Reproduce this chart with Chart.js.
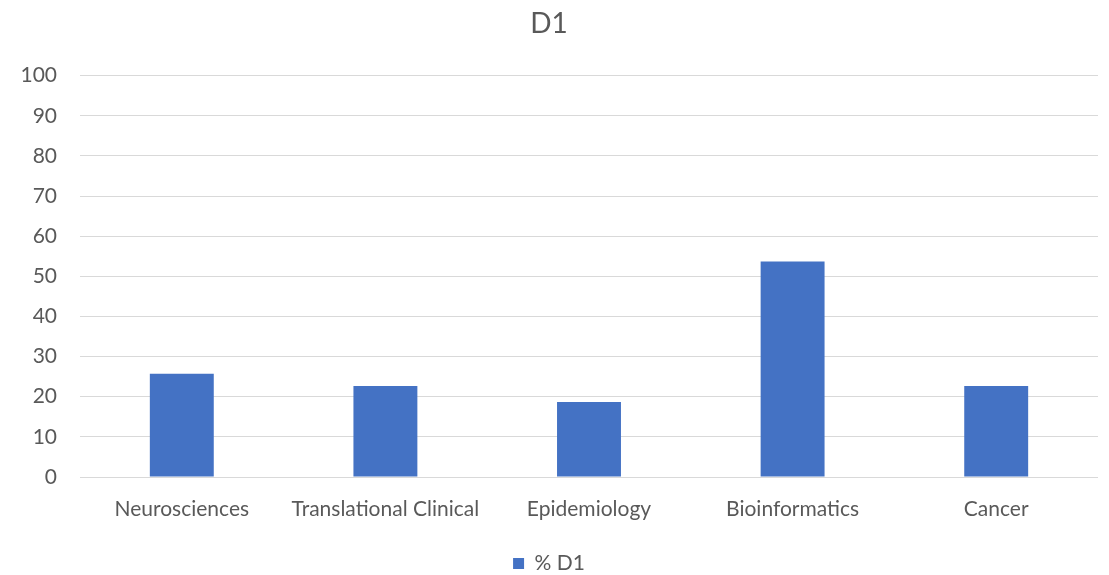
<!DOCTYPE html>
<html>
<head>
<meta charset="utf-8">
<script src="https://cdn.jsdelivr.net/npm/chart.js@4"></script>
<style>
  html, body { margin: 0; padding: 0; background: #fff; }
  #wrap { width: 1109px; height: 575px; }
</style>
</head>
<body>
<div id="wrap"><canvas id="chart"></canvas></div>
<script>
const categories = ['Neurosciences', 'Translational Clinical', 'Epidemiology', 'Bioinformatics', 'Cancer'];
const d1Values = [25.7, 22.7, 18.7, 53.7, 22.7];
const yTicks = [0, 10, 20, 30, 40, 50, 60, 70, 80, 90, 100];

const textColor = '#595959';
const fontFamily = 'Lato, "Open Sans", sans-serif';

let context = document.getElementById('chart').getContext('2d');
let chart = new Chart(context, {
    type: 'bar',
    data: {
        labels: categories,
        datasets: [{
            label: '% D1',
            data: d1Values,
            backgroundColor: '#4472C4',
            borderWidth: 0,
            categoryPercentage: 1,
            barPercentage: 0.314
        }]
    },
    options: {
        responsive: true,
        maintainAspectRatio: false,
        animation: false,
        layout: {
            // legend draws at the top of its box, so let the box hang off the bottom
            padding: { left: 0, right: 11, top: 0, bottom: -9 }
        },
        plugins: {
            title: {
                display: true,
                text: 'D1',
                color: textColor,
                font: { family: fontFamily, size: 28, weight: 'normal' },
                padding: { top: 7, bottom: 35 }
            },
            legend: {
                display: true,
                position: 'bottom',
                labels: {
                    color: textColor,
                    font: { family: fontFamily, size: 21 },
                    boxWidth: 11,
                    boxHeight: 11,
                    padding: 1
                }
            },
            tooltip: { enabled: false }
        },
        scales: {
            x: {
                afterFit: (scale) => {
                    scale.height = 75;
                },
                grid: { display: false, drawTicks: false },
                border: { display: false },
                ticks: {
                    color: textColor,
                    font: { family: fontFamily, size: 21 },
                    padding: 20,
                    maxRotation: 0
                }
            },
            y: {
                min: 0,
                max: 100,
                afterBuildTicks: (scale) => {
                    scale.ticks = yTicks.map(v => ({ value: v }));
                },
                afterFit: (scale) => {
                    scale.width = 80;
                },
                grid: { color: '#D9D9D9', lineWidth: 1, drawTicks: false },
                border: { display: false },
                ticks: {
                    color: textColor,
                    font: { family: fontFamily, size: 21 },
                    padding: 23
                }
            }
        }
    }
});
</script>
</body>
</html>
